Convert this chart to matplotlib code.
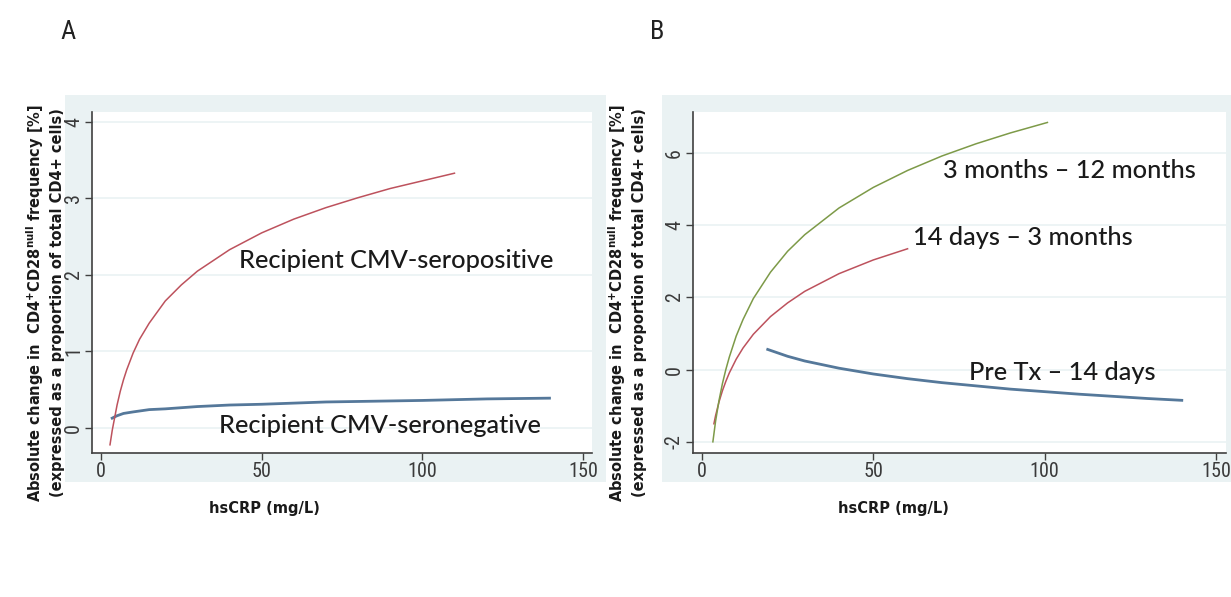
import matplotlib
matplotlib.use("Agg")
import matplotlib.pyplot as plt
from matplotlib import font_manager
from matplotlib.patches import Rectangle

W, H = 1231, 597

# ---- Panel A: recipient CMV serostatus ----
a_pos_x = [2.8, 3.5, 4, 5, 6, 7, 8, 10, 12, 15, 20, 25, 30, 40, 50, 60, 70, 80, 90, 100, 110]
a_pos_y = [-0.22, -0.03, 0.08, 0.30, 0.48, 0.63, 0.76, 0.98, 1.16, 1.37, 1.66, 1.87, 2.05,
           2.33, 2.55, 2.73, 2.88, 3.01, 3.13, 3.23, 3.33]
a_neg_x = [3.1, 4, 5, 7, 10, 15, 20, 30, 40, 50, 70, 100, 120, 140]
a_neg_y = [0.12, 0.14, 0.16, 0.19, 0.21, 0.24, 0.25, 0.28, 0.30, 0.31, 0.34, 0.36, 0.38, 0.39]

# ---- Panel B: time after transplantation ----
b_late_x = [3.2, 4, 5, 6, 7, 8, 10, 12, 15, 20, 25, 30, 40, 50, 60, 70, 80, 90, 100.8]
b_late_y = [-2.0, -1.42, -0.85, -0.38, 0.01, 0.35, 0.93, 1.39, 1.97, 2.70, 3.28, 3.74,
            4.48, 5.05, 5.52, 5.92, 6.26, 6.56, 6.85]
b_mid_x = [3.5, 4, 5, 6, 7, 8, 10, 12, 15, 20, 25, 30, 40, 50, 60]
b_mid_y = [-1.50, -1.27, -0.89, -0.58, -0.32, -0.09, 0.29, 0.60, 0.98, 1.47, 1.85, 2.17,
           2.66, 3.04, 3.35]
b_early_x = [19.2, 25, 30, 40, 50, 60, 70, 80, 90, 100, 110, 120, 130, 140]
b_early_y = [0.56, 0.37, 0.24, 0.04, -0.12, -0.25, -0.36, -0.45, -0.54, -0.61, -0.68,
             -0.74, -0.80, -0.85]

x_ticks = [0, 50, 100, 150]
a_y_ticks = [0, 1, 2, 3, 4]
b_y_ticks = [-2, 0, 2, 4, 6]

a_labels = ["Recipient CMV-seropositive", "Recipient CMV-seronegative"]
b_labels = ["3 months \u2013 12 months", "14 days \u2013 3 months", "Pre Tx \u2013 14 days"]

xlabel = "hsCRP (mg/L)"
ylabel = ("Absolute change in  CD4$^{\\mathbf{+}}$CD28$^{\\mathbf{null}}$ frequency [%]\n"
          "(expressed as a proportion of total CD4+ cells)")

C_RED = "#bd525d"
C_BLUE = "#55789a"
C_GREEN = "#7d9a48"
REGION = "#eaf2f3"
TICKC = "#3a3a3a"

plt.rcParams["mathtext.fontset"] = "dejavusans"

# a condensed face for tick labels, if one is installed
_names = {f.name for f in font_manager.fontManager.ttflist}
NARROW = next((n for n in ("Liberation Sans Narrow", "Roboto Condensed",
                           "Open Sans Condensed", "DejaVu Sans Condensed")
               if n in _names), "Liberation Sans")

fig = plt.figure(figsize=(W / 100, H / 100), dpi=100)
fig.patch.set_facecolor("white")


def px_rect(x0, y0, x1, y1):
    """Figure-fraction rectangle from pixel corners (y measured from top)."""
    return [x0 / W, 1 - y1 / H, (x1 - x0) / W, (y1 - y0) / H]


def region(x0, y0, x1, y1):
    l, b, w, h = px_rect(x0, y0, x1, y1)
    fig.patches.append(Rectangle((l, b), w, h, transform=fig.transFigure,
                                 facecolor=REGION, edgecolor="none", zorder=-5))


def style_axes(ax, yticks, xlim, ylim):
    ax.set_zorder(2)
    ax.set_facecolor("white")
    ax.set_xlim(*xlim)
    ax.set_ylim(*ylim)
    for s in ("top", "right"):
        ax.spines[s].set_visible(False)
    for s in ("left", "bottom"):
        ax.spines[s].set_color("#404040")
        ax.spines[s].set_linewidth(1.2)
    tick_font = dict(fontfamily=[NARROW, "DejaVu Sans"], fontsize=14.5, color=TICKC)
    ax.set_xticks(x_ticks)
    ax.set_xticklabels([str(t) for t in x_ticks], **tick_font)
    ax.set_yticks(yticks)
    ax.set_yticklabels([str(t) for t in yticks], rotation=90, va="center", **tick_font)
    ax.tick_params(direction="out", length=5, width=1, color="#404040", pad=1.5)
    ax.grid(axis="y", color=REGION, linewidth=1.2)
    ax.set_axisbelow(True)


# graph regions
region(65, 95, 606, 482)
region(662, 95, 1231, 482)

ann_font = dict(family=["Lato", "DejaVu Sans"], fontsize=18.3, fontweight=500,
                color="#1a1a1a")

# ---- Panel A ----
axA = fig.add_axes(px_rect(92, 112, 592, 453))
style_axes(axA, a_y_ticks, (-2.8, 152.8), (-0.327, 4.13))
axA.plot(a_neg_x, a_neg_y, color=C_BLUE, lw=2.0, solid_capstyle="butt")
axA.plot(a_pos_x, a_pos_y, color=C_RED, lw=1.1)
axA.text(42.8, 2.19, a_labels[0], ha="left", va="center", **ann_font)
axA.text(36.6, 0.03, a_labels[1], ha="left", va="center", **ann_font)

# ---- Panel B ----
axB = fig.add_axes(px_rect(693, 112, 1226, 453))
style_axes(axB, b_y_ticks, (-2.6, 152.9), (-2.31, 7.14))
axB.plot(b_early_x, b_early_y, color=C_BLUE, lw=2.0)
axB.plot(b_mid_x, b_mid_y, color=C_RED, lw=1.1)
axB.plot(b_late_x, b_late_y, color=C_GREEN, lw=1.1)
axB.text(70.3, 5.51, b_labels[0], ha="left", va="center", **ann_font)
axB.text(61.6, 3.66, b_labels[1], ha="left", va="center", **ann_font)
axB.text(77.8, -0.09, b_labels[2], ha="left", va="center", **ann_font)

# axis titles
lab_font = dict(family=["DejaVu Sans"], fontweight="bold", fontsize=10.5,
                color="#1a1a1a", linespacing=1.35)
for xc, yc in ((45, 303), (627, 303)):
    fig.text(xc / W, 1 - yc / H, ylabel, rotation=90, ha="center", va="center",
             multialignment="center", zorder=5, **lab_font)
for xc in (264, 893):
    fig.text(xc / W, 1 - 508 / H, xlabel, ha="center", va="center", **lab_font)

# panel letters
for xc, letter in ((68, "A"), (657, "B")):
    fig.text(xc / W, 1 - 32 / H, letter, ha="center", va="center",
             family=[NARROW, "DejaVu Sans"], fontsize=19, color="#222222")

fig.savefig("out.png", dpi=100, facecolor="white")
